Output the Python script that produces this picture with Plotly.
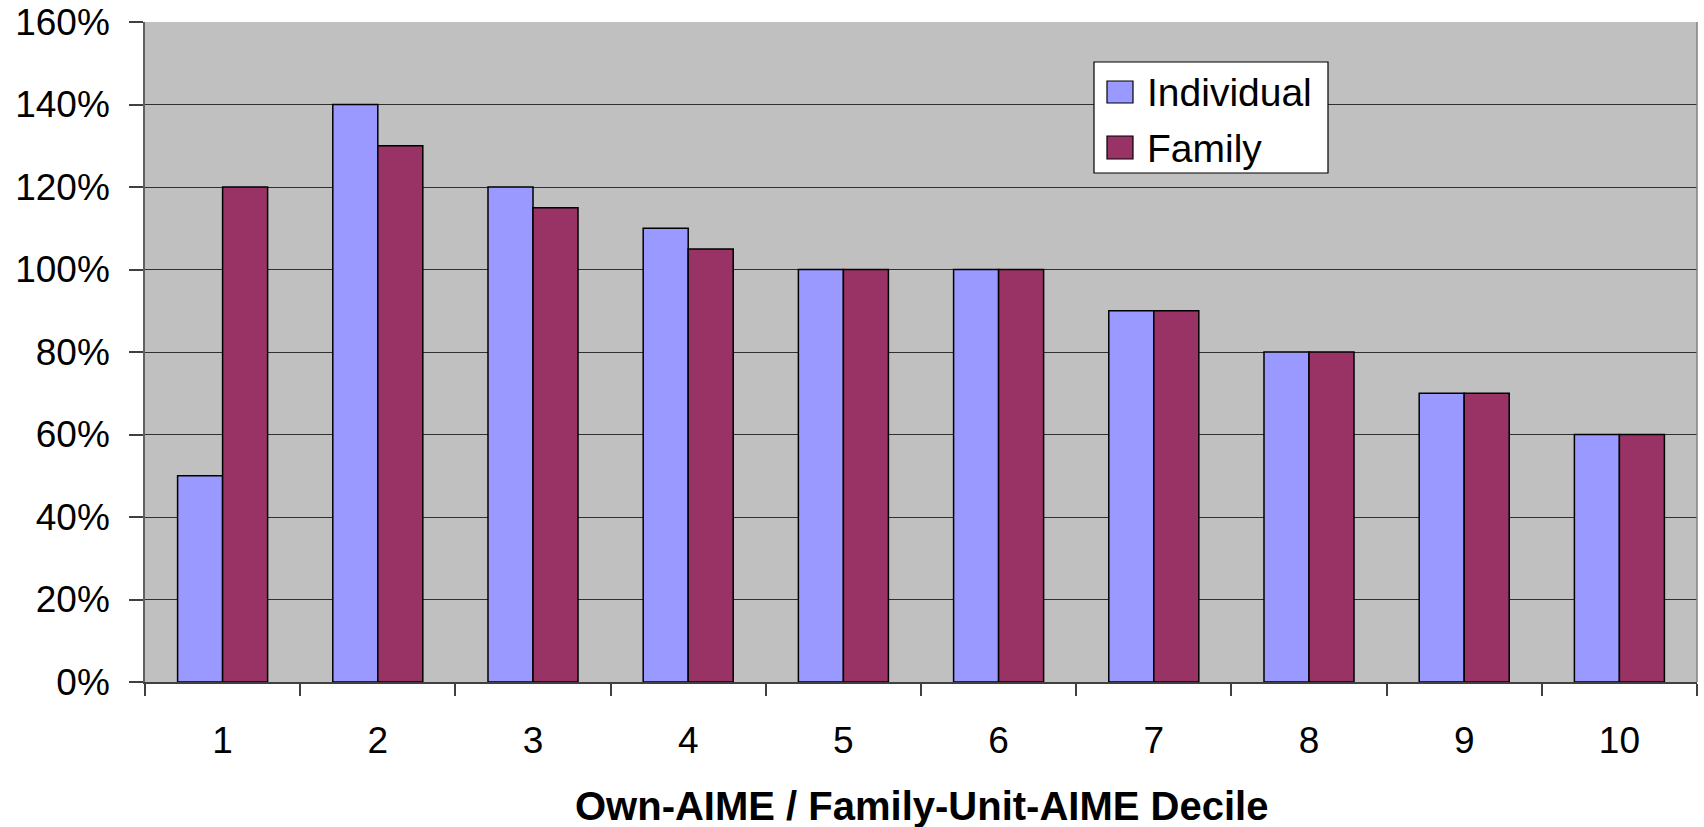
import plotly.graph_objects as go

# Replacement-rate ratios by decile, in percent
deciles = ["1", "2", "3", "4", "5", "6", "7", "8", "9", "10"]
individual = [50, 140, 120, 110, 100, 100, 90, 80, 70, 60]
family = [120, 130, 115, 105, 100, 100, 90, 80, 70, 60]
y_ticks = [0, 20, 40, 60, 80, 100, 120, 140, 160]
y_tick_labels = [f"{v}%" for v in y_ticks]

series_names = ["Individual", "Family"]
series_colors = ["#9999FF", "#993366"]

FONT = "Liberation Sans, Arial, sans-serif"
W, H = 1704, 827
L, R, T, B = 145, 7, 22, 145
plot_w = W - L - R
plot_h = H - T - B


def px_x(px):
    return (px - L) / plot_w


def px_y(py):
    return (H - B - py) / plot_h


fig = go.Figure()
for name, vals, col in zip(series_names, [individual, family], series_colors):
    fig.add_trace(go.Bar(
        x=deciles, y=vals, name=name,
        marker=dict(color=col, line=dict(color="black", width=1.5)),
        showlegend=False,
    ))

fig.update_layout(
    width=W, height=H,
    margin=dict(l=L, r=R, t=T, b=B),
    paper_bgcolor="white",
    plot_bgcolor="#C0C0C0",
    barmode="group",
    bargap=0.42,
    bargroupgap=0,
    font=dict(family=FONT, color="black"),
    xaxis=dict(
        type="category",
        automargin=False,
        tickson="boundaries",
        ticks="outside", ticklen=12, tickcolor="#404040", tickwidth=1.5,
        tickfont=dict(size=37, family=FONT, color="black"),
        ticklabelstandoff=25,
        showline=True, linecolor="#404040", linewidth=1.5,
        showgrid=False, zeroline=False,
        range=[-0.5, 9.5],
    ),
    yaxis=dict(
        range=[0, 160],
        automargin=False,
        tickvals=y_ticks, ticktext=y_tick_labels,
        ticks="outside", ticklen=14, tickcolor="#404040", tickwidth=1.5,
        tickfont=dict(size=37, family=FONT, color="black"),
        ticklabelstandoff=12,
        showline=True, linecolor="#606060", linewidth=1.5,
        showgrid=True, gridcolor="#303030", gridwidth=1,
        zeroline=False,
    ),
)

# Right-hand frame edge of the plot area
fig.add_shape(type="line", xref="paper", yref="paper", x0=1, x1=1, y0=0, y1=1,
              line=dict(color="#808080", width=1.5))

# Axis title
fig.add_annotation(
    text="<b>Own-AIME / Family-Unit-AIME Decile</b>",
    xref="paper", yref="paper", x=0.5, y=px_y(806),
    xanchor="center", yanchor="middle", showarrow=False,
    font=dict(size=40, family=FONT, color="black"),
)

# Legend box with swatches and labels
fig.add_shape(type="rect", xref="paper", yref="paper",
              x0=px_x(1094), x1=px_x(1328), y0=px_y(173), y1=px_y(62),
              fillcolor="white", line=dict(color="black", width=1.2), layer="above")
rows = [(81, 103, 92), (136, 159, 148)]
for (top, bot, mid), name, col in zip(rows, series_names, series_colors):
    fig.add_shape(type="rect", xref="paper", yref="paper",
                  x0=px_x(1107), x1=px_x(1133), y0=px_y(bot), y1=px_y(top),
                  fillcolor=col, line=dict(color="black", width=1.2), layer="above")
    fig.add_annotation(
        text=name, xref="paper", yref="paper",
        x=px_x(1145), y=px_y(mid), xanchor="left", yanchor="middle",
        showarrow=False, font=dict(size=39, family=FONT, color="black"),
    )

fig.write_html("out.html")
